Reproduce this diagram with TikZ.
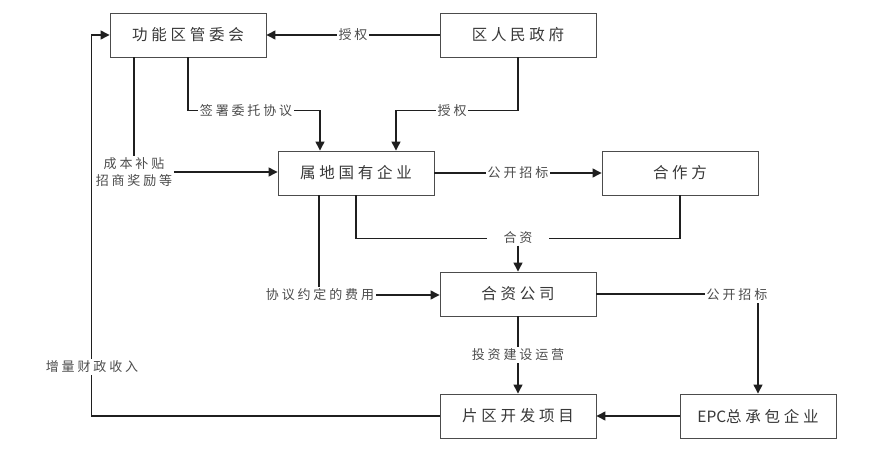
\documentclass[tikz,border=0pt]{standalone}
\usepackage{fontspec}
\newfontfamily\boxfont[LetterSpace=24]{Noto Sans CJK SC}
\newfontfamily\labfont[LetterSpace=22]{Noto Sans CJK SC}
\newfontfamily\latinfont{Noto Sans CJK SC}
\usetikzlibrary{arrows.meta}

\tikzset{
  unit/.style={draw=black!70, line width=0.9pt, minimum width=156pt, minimum height=44pt,
    inner sep=0pt, text=black!78, font=\boxfont\fontsize{15.5}{18}\selectfont},
  tag/.style={fill=white, inner sep=1.5pt, text=black!70, font=\labfont\fontsize{13}{17}\selectfont},
  link/.style={line width=1.3pt, black!88},
  flow/.style={link, -{Triangle[length=9pt,width=9pt]}}
}

\begin{document}
\begin{tikzpicture}[x=1pt,y=-1pt]

  \useasboundingbox[fill=white] (0,0) rectangle (871,457);

  % boxes
  \node[unit] (gw)   at (188,35)  {功能区管委会};
  \node[unit] (zf)   at (518,35)  {区人民政府};
  \node[unit] (dq)   at (356,173) {属地国有企业};
  \node[unit] (hz)   at (680,173) {合作方};
  \node[unit] (hzgs) at (518,294) {合资公司};
  \node[unit] (pq)   at (518,416) {片区开发项目};
  \node[unit] (epc)  at (758,416) {{\latinfont EPC}总承包企业};

  % authorisation from the district government
  \draw[flow] (zf.west) -- node[tag] {授权} (gw.east);
  \draw[flow] (zf.south) -- ++(0,53) -| node[tag, pos=0.27] {授权} ([xshift=40pt]dq.north);

  % entrustment by the committee
  \draw[flow] (gw.south) -- ++(0,53) -| node[tag, pos=0.22] {签署委托协议} ([xshift=-36pt]dq.north);

  % subsidies
  \node[tag, align=center] (bt) at (134,172) {成本补贴\\招商奖励等};
  \draw[link] ([xshift=-54pt]gw.south) -- ([xshift=-54pt]gw.south |- bt.north);
  \draw[flow] (bt.east) -- (bt.east -| dq.west);

  % tender for the partner
  \draw[flow] (dq.east) -- node[tag] {公开招标} (hz.west);

  % joint venture
  \draw[link] (dq.south) -- ++(0,43) -| (hz.south);
  \node[tag, inner xsep=17pt] (hzl) at (518,238) {合资};
  \draw[flow] (hzl.south) -- (hzgs.north);

  % agreed fees
  \node[tag] (fy) at (320,295) {协议约定的费用};
  \draw[link] ([xshift=-37pt]dq.south) -- ([xshift=-37pt]dq.south |- fy.north);
  \draw[flow] (fy.east) -- (fy.east -| hzgs.west);

  % EPC tender
  \draw[flow] (hzgs.east) -| (epc.north);
  \node[tag] (zb) at (737,295) {公开招标};

  % construction and operation
  \draw[flow] (hzgs.south) -- node[tag] {投资建设运营} (pq.north);
  \draw[flow] (epc.west) -- (pq.east);

  % fiscal revenue back to the committee
  \draw[flow] (pq.west) -- ++(-348,0) |- (gw.west);
  \node[tag] (sr) at (92,367) {增量财政收入};

\end{tikzpicture}
\end{document}
